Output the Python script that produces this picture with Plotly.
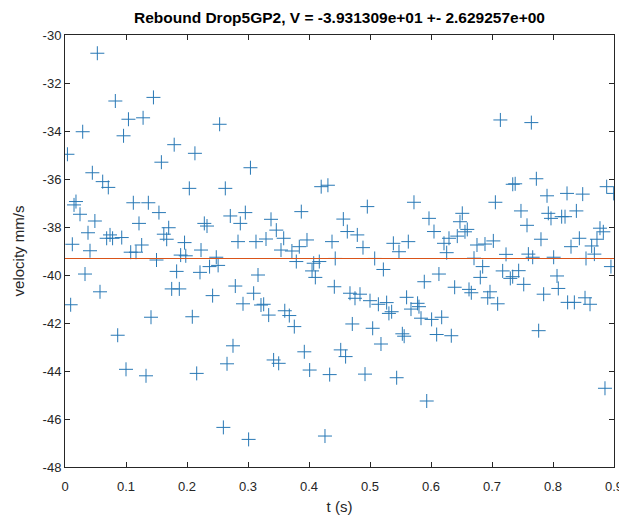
import plotly.graph_objects as go

# time (s)
t = [0.004, 0.0093, 0.012, 0.0148, 0.018, 0.0246, 0.029, 0.0328, 0.0377, 0.041,
     0.0448, 0.049, 0.053, 0.0574, 0.0618, 0.0683, 0.071, 0.0738, 0.078, 0.0825,
     0.0864, 0.093, 0.096, 0.100, 0.104, 0.1077, 0.112, 0.1164, 0.1213, 0.1257,
     0.128, 0.1328, 0.1366, 0.141, 0.145, 0.150, 0.154, 0.158, 0.162, 0.1667,
     0.170, 0.1749, 0.179, 0.183, 0.1874, 0.1896, 0.196, 0.198, 0.2038, 0.2087,
     0.213, 0.2159, 0.2213, 0.223, 0.2284, 0.2328, 0.237, 0.242, 0.248, 0.251,
     0.2535, 0.2596, 0.2628, 0.2656, 0.271, 0.2754, 0.2792, 0.2836, 0.2874, 0.2918,
     0.2956, 0.301, 0.304, 0.3093, 0.3131, 0.3164, 0.3213, 0.3257, 0.3295, 0.3339,
     0.3377, 0.342, 0.3464, 0.3503, 0.3541, 0.3585, 0.3603, 0.3677, 0.372, 0.3759,
     0.3792, 0.3841, 0.3874, 0.3923, 0.3967, 0.4011, 0.405, 0.4077, 0.4104, 0.4169,
     0.420, 0.4262, 0.431, 0.4339, 0.4377, 0.4415, 0.443, 0.452, 0.4563, 0.460,
     0.4628, 0.4672, 0.471, 0.4754, 0.4792, 0.4836, 0.4885, 0.4918, 0.4956, 0.500,
     0.5044, 0.5077, 0.5137, 0.518, 0.5219, 0.5273, 0.531, 0.5355, 0.5383, 0.5437,
     0.5475, 0.553, 0.556, 0.560, 0.5628, 0.5672, 0.5721, 0.578, 0.5803, 0.5836,
     0.589, 0.593, 0.5967, 0.601, 0.6049, 0.6093, 0.613, 0.6175, 0.6213, 0.6257,
     0.6295, 0.6333, 0.6388, 0.6431, 0.6475, 0.6513, 0.6557, 0.6595, 0.6623, 0.6661,
     0.6705, 0.6754, 0.6808, 0.6847, 0.6885, 0.693, 0.6967, 0.7022, 0.7055, 0.7093,
     0.7137, 0.7175, 0.723, 0.730, 0.7339, 0.734, 0.738, 0.7437, 0.7475, 0.752,
     0.7574, 0.7596, 0.7645, 0.7667, 0.7727, 0.7765, 0.7803, 0.7847, 0.7902, 0.7923,
     0.7967, 0.8011, 0.8066, 0.8087, 0.8142, 0.8197, 0.823, 0.824, 0.8295, 0.835,
     0.8383, 0.8432, 0.8487, 0.8525, 0.8541, 0.8607, 0.8634, 0.8678, 0.8721, 0.877,
     0.8825, 0.8852, 0.888, 0.895, 0.8995]

# velocity (mm/s)
velocity = [-34.97, -41.24, -38.72, -37.08, -36.94, -37.47, -34.03, -39.96, -38.24, -38.99,
            -35.74, -37.75, -30.76, -40.70, -36.11, -38.47, -36.35, -38.33, -38.47, -32.75,
            -42.51, -38.44, -34.20, -43.93, -33.51, -39.05, -36.99, -39.05, -37.85, -38.75,
            -33.45, -44.20, -36.99, -41.76, -32.60, -39.375, -37.40, -35.30, -38.30, -38.51,
            -38.03, -40.58, -34.57, -39.85, -40.58, -39.17, -38.65, -39.20, -36.39, -41.74,
            -34.93, -44.10, -39.89, -38.96, -37.85, -37.96, -39.65, -40.86, -39.26, -39.60,
            -33.72, -46.35, -36.39, -43.70, -37.54, -42.95, -40.46, -38.61, -37.85, -41.20,
            -37.40, -46.85, -35.53, -40.76, -38.61, -40.00, -41.25, -41.22, -38.50, -41.67,
            -37.68, -43.54, -38.13, -43.68, -38.96, -38.47, -41.49, -41.69, -39.00, -42.15,
            -39.44, -38.82, -37.36, -43.20, -38.54, -43.96, -39.83, -39.51, -40.10, -39.44,
            -36.32, -46.71, -36.26, -44.15, -38.61, -40.49, -39.31, -43.12, -37.67, -43.40,
            -38.19, -40.76, -42.04, -40.97, -38.33, -40.80, -38.86, -44.13, -37.15, -41.07,
            -42.22, -39.31, -41.22, -42.875, -39.77, -41.15, -41.60, -41.53, -38.68, -44.28,
            -39.03, -42.45, -42.55, -40.93, -38.61, -41.42, -36.97, -41.18, -41.32, -41.80,
            -40.28, -45.25, -37.64, -41.85, -38.19, -42.48, -39.96, -41.76, -38.68, -39.07,
            -38.47, -42.53, -40.51, -38.38, -37.78, -37.43, -38.20, -38.10, -40.60, -40.74,
            -39.30, -38.75, -40.10, -39.65, -38.71, -40.95, -40.70, -38.58, -36.97, -41.20,
            -33.54, -39.83, -39.14, -40.14, -40.07, -36.22, -36.20, -39.82, -37.33, -40.39,
            -37.93, -39.13, -33.65, -39.26, -35.99, -42.32, -38.51, -40.80, -36.70, -37.43,
            -37.64, -39.26, -40.04, -40.56, -37.57, -37.57, -36.60, -41.14, -38.82, -41.14,
            -37.33, -38.47, -36.63, -40.95, -39.31, -41.22, -38.79, -39.13, -38.51, -38.05,
            -38.20, -44.72, -36.32, -39.65, -36.60]

V_MEAN = -39.31309
V_STD = 2.629257
X_RANGE = [0, 0.9]
Y_RANGE = [-48, -30]
x_ticks = [0, 0.1, 0.2, 0.3, 0.4, 0.5, 0.6, 0.7, 0.8, 0.9]
x_ticktext = ["0", "0.1", "0.2", "0.3", "0.4", "0.5", "0.6", "0.7", "0.8", "0.9"]
y_ticks = [-48, -46, -44, -42, -40, -38, -36, -34, -32, -30]
y_ticktext = ["-48", "-46", "-44", "-42", "-40", "-38", "-36", "-34", "-32", "-30"]

FONT = "Liberation Sans, Arial"

fig = go.Figure()
fig.add_trace(go.Scatter(
    x=t, y=velocity, mode="markers",
    marker=dict(symbol="cross-thin", size=10, color="#0072BD",
                line=dict(color="#2878b5", width=1)),
    showlegend=False, hoverinfo="x+y"))
fig.add_trace(go.Scatter(
    x=X_RANGE, y=[V_MEAN, V_MEAN], mode="lines",
    line=dict(color="#D95319", width=1), showlegend=False))

axis_common = dict(showline=True, linecolor="#262626", linewidth=1, mirror="ticks",
                   ticks="inside", ticklen=5, tickcolor="#262626", showgrid=False,
                   zeroline=False, automargin=False,
                   tickfont=dict(family=FONT, size=13, color="#262626"))

# page body adds an 8px offset, so the figure is sized to fit the window
fig.update_layout(
    width=619, height=510,
    paper_bgcolor="white", plot_bgcolor="white",
    margin=dict(l=57, r=13, t=27, b=51, autoexpand=False),
    title=dict(text=f"<b>Rebound Drop5GP2, V = {V_MEAN:.6e} +- {V_STD:.6e}</b>",
               x=0.5355, xanchor="center", y=0.982, yanchor="middle", automargin=False,
               font=dict(family=FONT, size=15.5, color="black")),
    xaxis=dict(range=X_RANGE, tickvals=x_ticks, ticktext=x_ticktext, ticklabelstandoff=7,
               title=dict(text="t (s)", font=dict(family=FONT, size=15, color="#262626"), standoff=8),
               **axis_common),
    yaxis=dict(range=Y_RANGE, tickvals=y_ticks, ticktext=y_ticktext,
               title=dict(text="velocity mm/s", font=dict(family=FONT, size=15, color="#262626"), standoff=14),
               **axis_common),
)

fig.write_html("out.html")
